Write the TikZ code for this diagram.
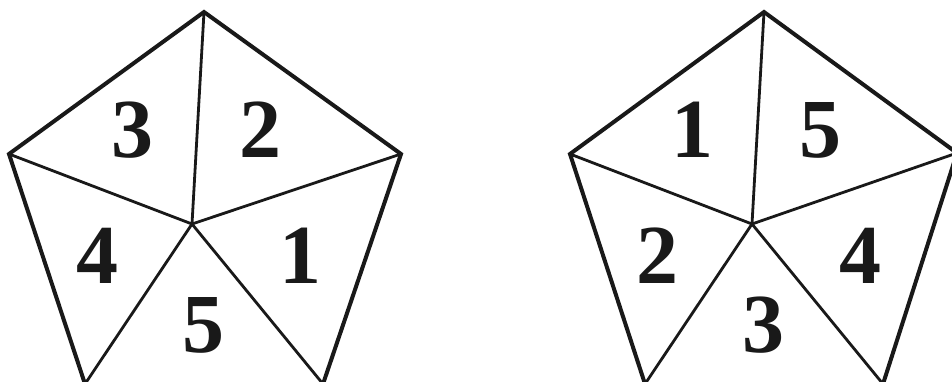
\documentclass[tikz,border=0pt]{standalone}
\usepackage{fontspec}
\setmainfont{Liberation Serif}
\begin{document}
\begin{tikzpicture}[x=1pt,y=-1pt,
  outer/.style={line width=4pt,line join=miter,black!90},
  spoke/.style={line width=2.8pt,black!90},
  num/.style={inner sep=0pt,font=\fontsize{84}{84}\selectfont\bfseries,text=black!90}]
\useasboundingbox (0,0) rectangle (952,381);
\clip (0,0) rectangle (952,381);
% left pentagon
\coordinate (aT) at (204,12);
\coordinate (aL) at (9,154);
\coordinate (aR) at (401,154);
\coordinate (aBL) at (85,384);
\coordinate (aBR) at (323,384);
\coordinate (aC) at (192,224);
\draw[outer] (aBL) -- (aL) -- (aT) -- (aR) -- (aBR);
\foreach \v in {aT,aL,aR,aBL,aBR} \draw[spoke] (aC) -- (\v);
\node[num] (a3) at (132,130) {3};
\node[num] (a2) at (260,130) {2};
\node[num] (a4) at (97,256) {4};
\node[num] (a1) at (300,256) {1};
\node[num] (a5) at (203,325) {5};
% right pentagon
\coordinate (bT) at (764,12);
\coordinate (bL) at (570,154);
\coordinate (bR) at (957,153);
\coordinate (bBL) at (645,384);
\coordinate (bBR) at (883,384);
\coordinate (bC) at (752,224);
\draw[outer] (bBL) -- (bL) -- (bT) -- (bR) -- (bBR);
\foreach \v in {bT,bL,bR,bBL,bBR} \draw[spoke] (bC) -- (\v);
\node[num] (b1) at (692,130) {1};
\node[num] (b5) at (820,130) {5};
\node[num] (b2) at (657,256) {2};
\node[num] (b4) at (860,256) {4};
\node[num] (b3) at (763,325) {3};
\end{tikzpicture}
\end{document}
